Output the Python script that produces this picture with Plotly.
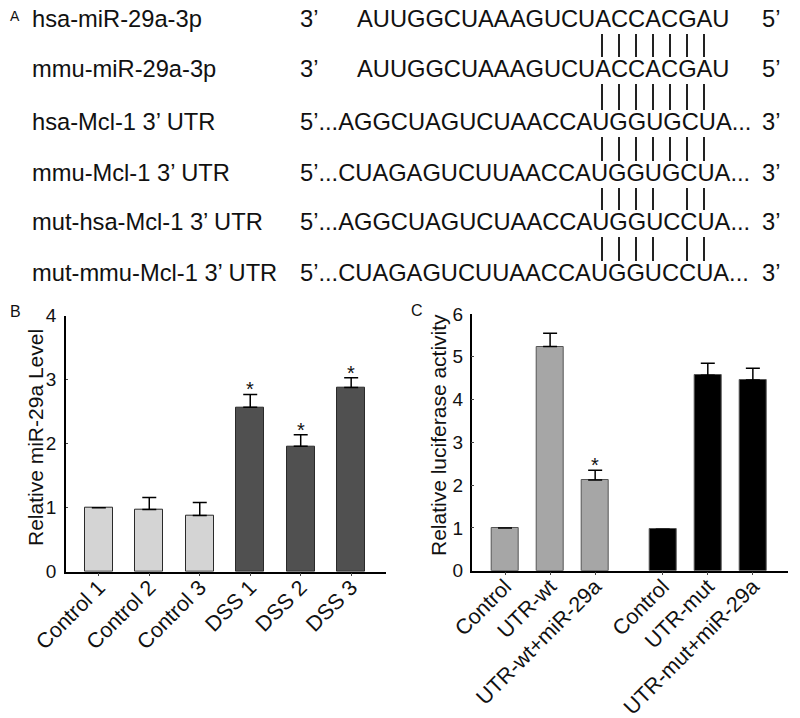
import plotly.graph_objects as go

# the page adds an 8px body margin, so the figure is 8px smaller
OFF = 8
W, H = 800 - OFF, 718 - OFF
FONT = "Arial, Liberation Sans, sans-serif"

# Panel A: sequence alignment
row_names = ["hsa-miR-29a-3p", "mmu-miR-29a-3p", "hsa-Mcl-1 3’ UTR",
             "mmu-Mcl-1 3’ UTR", "mut-hsa-Mcl-1 3’ UTR", "mut-mmu-Mcl-1 3’ UTR"]
row_prefix = ["3’", "3’", "5’...", "5’...", "5’...", "5’..."]
row_seqs = ["AUUGGCUAAAGUCUACCACGAU", "AUUGGCUAAAGUCUACCACGAU",
            "AGGCUAGUCUAACCAUGGUGCUA...", "CUAGAGUCUUAACCAUGGUGCUA...",
            "AGGCUAGUCUAACCAUGGUCCUA...", "CUAGAGUCUUAACCAUGGUCCUA..."]
row_suffix = ["5’", "5’", "3’", "3’", "3’", "3’"]
# which of the 7 seed positions are paired between consecutive rows
pair_masks = ["1111111", "1111111", "1111111", "1111011", "1111011"]

# Panel B
b_labels = ["Control 1", "Control 2", "Control 3", "DSS 1", "DSS 2", "DSS 3"]
b_values = [1.0, 0.97, 0.88, 2.57, 1.96, 2.88]
b_errors = [0, 0.19, 0.2, 0.2, 0.18, 0.15]
b_star = [False, False, False, True, True, True]
b_colors = ["#d4d4d4", "#d4d4d4", "#d4d4d4", "#505050", "#505050", "#505050"]

# Panel C
c_labels = ["Control", "UTR-wt", "UTR-wt+miR-29a", "Control", "UTR-mut", "UTR-mut+miR-29a"]
c_group = [0, 0, 0, 1, 1, 1]
c_values = [1.0, 5.24, 2.12, 0.97, 4.57, 4.46]
c_errors = [0, 0.31, 0.23, 0, 0.28, 0.27]
c_star = [False, False, True, False, False, False]
c_colors = ["#a6a6a6", "#a6a6a6", "#a6a6a6", "#000000", "#000000", "#000000"]
c_pos = [i + 0.5 * g for i, g in enumerate(c_group)]


def px(x):
    return (x - OFF) / W


def py(y):
    return 1 - (y - OFF) / H


fig = go.Figure()

fig.add_trace(go.Bar(
    x=b_labels, y=b_values, width=0.56,
    marker=dict(color=b_colors, line=dict(color="#2a2a2a", width=1)),
    error_y=dict(type="data", array=b_errors, symmetric=False, arrayminus=[0] * 6,
                 color="black", thickness=1.5, width=7),
    xaxis="x", yaxis="y", showlegend=False))

fig.add_trace(go.Bar(
    x=c_pos, y=c_values, width=0.6,
    marker=dict(color=c_colors, line=dict(color="#555555", width=1)),
    error_y=dict(type="data", array=c_errors, symmetric=False, arrayminus=[0] * 6,
                 color="black", thickness=1.5, width=7),
    xaxis="x2", yaxis="y2", showlegend=False))

ann = []
shapes = []
SEQ_FONT = dict(size=23.7)

# panel A text
row_y = [19, 69, 122, 173, 222, 273]
for i in range(6):
    ann.append(dict(x=px(30), y=py(row_y[i]), xref="paper", yref="paper", text=row_names[i],
                    xanchor="left", yanchor="middle", showarrow=False, font=SEQ_FONT))
    if row_prefix[i] == "3’":
        ann.append(dict(x=px(298), y=py(row_y[i]), xref="paper", yref="paper", text=row_prefix[i],
                        xanchor="left", yanchor="middle", showarrow=False, font=SEQ_FONT))
        ann.append(dict(x=px(355), y=py(row_y[i]), xref="paper", yref="paper", text=row_seqs[i],
                        xanchor="left", yanchor="middle", showarrow=False, font=SEQ_FONT))
    else:
        ann.append(dict(x=px(298), y=py(row_y[i]), xref="paper", yref="paper",
                        text=row_prefix[i] + row_seqs[i],
                        xanchor="left", yanchor="middle", showarrow=False, font=SEQ_FONT))
    ann.append(dict(x=px(760), y=py(row_y[i]), xref="paper", yref="paper", text=row_suffix[i],
                    xanchor="left", yanchor="middle", showarrow=False, font=SEQ_FONT))

for k, mask in enumerate(pair_masks):
    for j, m in enumerate(mask):
        if m == "1":
            xx = px(602 + 17 * j)
            shapes.append(dict(type="line", xref="paper", yref="paper", x0=xx, x1=xx,
                               y0=py(row_y[k] + 15), y1=py(row_y[k + 1] - 12),
                               line=dict(color="#222222", width=2)))

# panel letters
for letter, lx, ly, sz in [("A", 8, 16, 14), ("B", 8, 311, 16), ("C", 409, 310, 16)]:
    ann.append(dict(x=px(lx), y=py(ly), xref="paper", yref="paper", text=letter,
                    xanchor="left", yanchor="middle", showarrow=False, font=dict(size=sz)))

# y-axis titles
ann.append(dict(x=px(35), y=py(438), xref="paper", yref="paper", text="Relative miR-29a Level",
                textangle=-90, showarrow=False, xanchor="center", yanchor="middle",
                font=dict(size=21)))
ann.append(dict(x=px(438), y=py(435), xref="paper", yref="paper", text="Relative luciferase activity",
                textangle=-90, showarrow=False, xanchor="center", yanchor="middle",
                font=dict(size=21)))

# significance stars
for lab, v, e, s in zip(b_labels, b_values, b_errors, b_star):
    if s:
        ann.append(dict(x=lab, y=v + e, xref="x", yref="y", text="*", showarrow=False,
                        yanchor="bottom", yshift=-8, font=dict(size=20)))
for p, v, e, s in zip(c_pos, c_values, c_errors, c_star):
    if s:
        ann.append(dict(x=p, y=v + e, xref="x2", yref="y2", text="*", showarrow=False,
                        yanchor="bottom", yshift=-8, font=dict(size=20)))

axis_common = dict(showline=True, linecolor="black", linewidth=1.5, showgrid=False,
                   zeroline=False, mirror=False, automargin=False)

fig.update_layout(
    width=W, height=H, margin=dict(l=0, r=0, t=0, b=0),
    paper_bgcolor="white", plot_bgcolor="white",
    font=dict(family=FONT, color="#111111"),
    bargap=0,
    xaxis=dict(domain=[px(66), px(386)], range=[-0.65, 5.69], anchor="y",
               ticks="outside", ticklen=3, tickangle=-45, tickfont=dict(size=21.5),
               ticklabelstandoff=-10, **axis_common),
    yaxis=dict(domain=[py(571.7), py(315.7)], range=[0, 4], dtick=1, anchor="x",
               ticks="inside", ticklen=2, tickfont=dict(size=19),
               ticklabelstandoff=4, **axis_common),
    xaxis2=dict(domain=[px(471.7), px(788)], range=[-0.74, 6.28], anchor="y2",
                tickvals=c_pos, ticktext=c_labels,
                ticks="outside", ticklen=3, tickangle=-45, tickfont=dict(size=21.5),
                ticklabelstandoff=-10, **axis_common),
    yaxis2=dict(domain=[py(570.7), py(314)], range=[0, 6], dtick=1, anchor="x2",
                ticks="inside", ticklen=3, tickfont=dict(size=19),
                ticklabelstandoff=3, **axis_common),
    annotations=ann,
    shapes=shapes,
)

fig.write_html("out.html")
